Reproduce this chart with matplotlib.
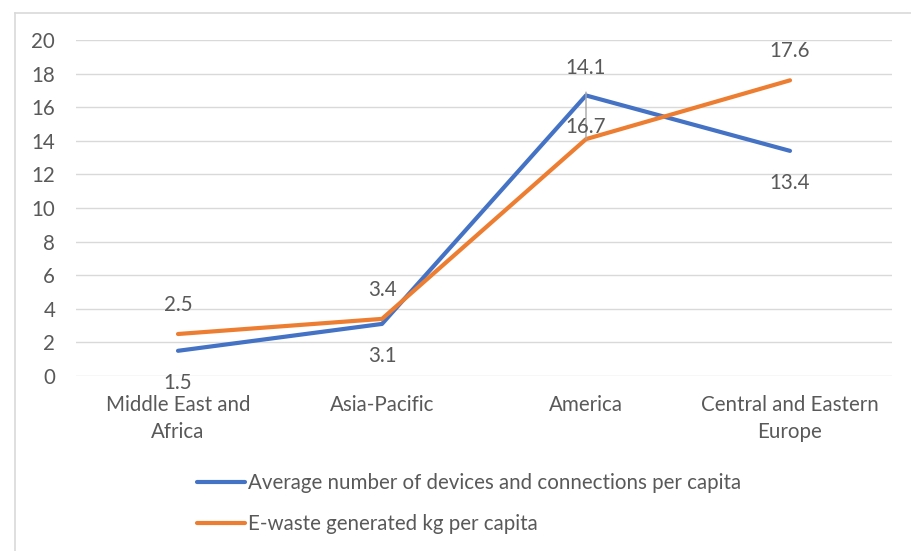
import matplotlib.pyplot as plt
from matplotlib.lines import Line2D

regions = ["Middle East and\nAfrica", "Asia-Pacific", "America", "Central and Eastern\nEurope"]
devices = [1.5, 3.1, 16.7, 13.4]
ewaste = [2.5, 3.4, 14.1, 17.6]
yticks = [0, 2, 4, 6, 8, 10, 12, 14, 16, 18, 20]

blue = "#4472C4"
orange = "#ED7D31"
grey_txt = "#595959"
grid_c = "#D9D9D9"
fs = 14.8

plt.rcParams['font.family'] = ['Lato', 'DejaVu Sans']
plt.rcParams['font.size'] = fs

fig = plt.figure(figsize=(9.12, 5.51), dpi=100)
ax = fig.add_axes([76/912, 1-376/551, 816/912, 336/551])

x = range(len(regions))
ax.plot(x, devices, color=blue, lw=3, solid_capstyle='round',
        label="Average number of devices and connections per capita")
ax.plot(x, ewaste, color=orange, lw=3, solid_capstyle='round',
        label="E-waste generated kg per capita")

ax.set_xlim(-0.5, len(regions)-0.5)
ax.set_ylim(0, 20)
ax.set_yticks(yticks)
ax.set_xticks(list(x))
ax.set_xticklabels(regions, linespacing=1.42)
ax.grid(axis='y', color=grid_c, lw=1)
ax.set_axisbelow(True)
for s in ax.spines.values():
    s.set_visible(False)
ax.tick_params(axis='y', length=0, pad=15, colors=grey_txt, labelsize=fs)
ax.tick_params(axis='x', length=0, pad=14, colors=grey_txt, labelsize=fs)

# value labels: orange above the line, blue below
for i, v in enumerate(ewaste):
    if i == 2:
        ax.annotate(f"{v}", (i, v), xytext=(0, 51), textcoords='offset points',
                    ha='center', va='center', color=grey_txt, fontsize=fs,
                    arrowprops=dict(arrowstyle='-', color='#A6A6A6', lw=1,
                                    shrinkA=8, shrinkB=0))
    else:
        ax.annotate(f"{v}", (i, v), xytext=(0, 21), textcoords='offset points',
                    ha='center', va='center', color=grey_txt, fontsize=fs)
for i, v in enumerate(devices):
    ax.annotate(f"{v}", (i, v), xytext=(0, -23), textcoords='offset points',
                ha='center', va='center', color=grey_txt, fontsize=fs)

leg = fig.legend(loc='upper left', bbox_to_anchor=(187/912, 1-463/551),
                 frameon=False, handlelength=2.3, handletextpad=0.15,
                 labelspacing=1.0, borderpad=0, fontsize=fs)
for t in leg.get_texts():
    t.set_color(grey_txt)

# chart area border (top and left edges)
fig.add_artist(Line2D([15/912, 1], [1-13/551, 1-13/551], color=grid_c, lw=1.2,
                      transform=fig.transFigure))
fig.add_artist(Line2D([15/912, 15/912], [0, 1-13/551], color=grid_c, lw=1.2,
                      transform=fig.transFigure))

fig.savefig("out.png", dpi=100)
